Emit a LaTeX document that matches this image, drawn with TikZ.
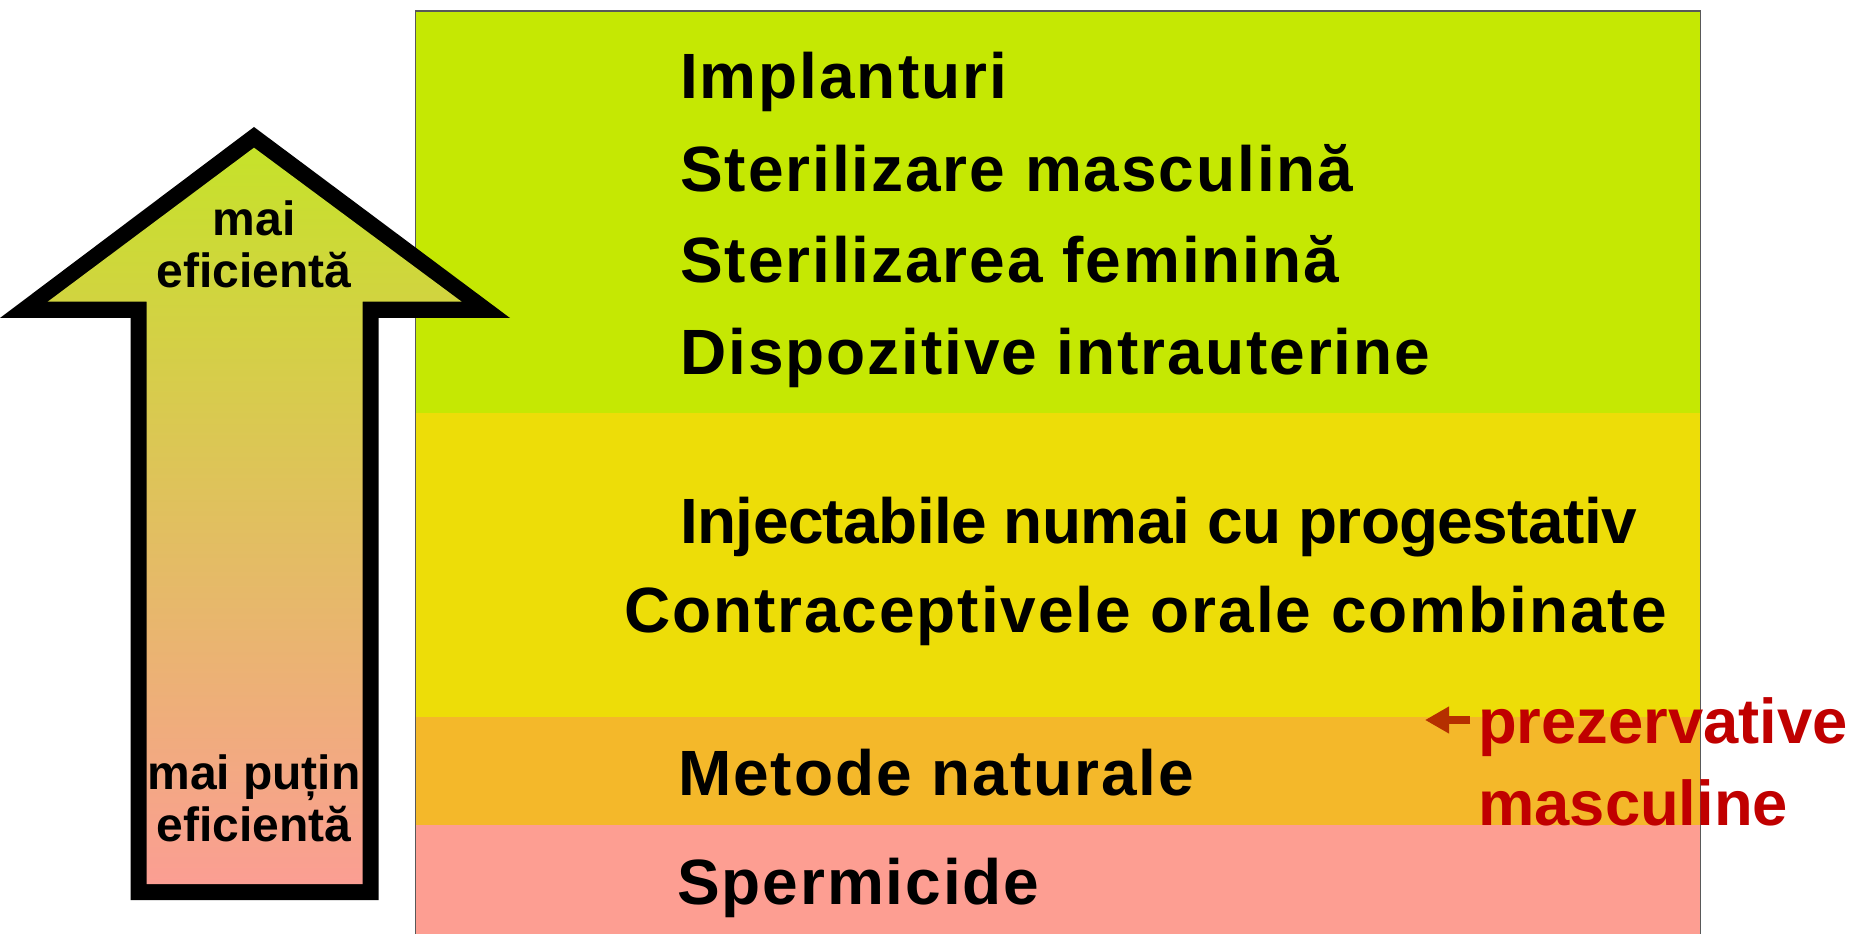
\documentclass[tikz,border=0pt]{standalone}
\usepackage{fontspec}
\setmainfont{Liberation Sans}
\usetikzlibrary{positioning, arrows.meta}

\definecolor{bandgreen}{HTML}{C5E803}
\definecolor{bandyellow}{HTML}{EDDD08}
\definecolor{bandorange}{HTML}{F4B82A}
\definecolor{bandpink}{HTML}{FD9E92}
\definecolor{hintred}{HTML}{C00000}
\definecolor{pointerred}{HTML}{B53000}

\begin{document}
\begin{tikzpicture}[
    x=0.75pt, y=-0.75pt,
    band/.style={draw=none},
    item/.style={anchor=base west, inner sep=0pt, font=\fontsize{48}{58}\selectfont\bfseries\addfontfeature{LetterSpace=3}},
    arrowtext/.style={align=center, inner sep=0pt, font=\fontsize{36}{39}\selectfont\bfseries},
    hint/.style={align=left, inner sep=0pt, text=hintred, font=\fontsize{47.5}{61.5}\selectfont\bfseries},
    pointer/.style={-{Triangle[length=18pt, width=19pt]}, line width=6pt, draw=pointerred}
]
    \useasboundingbox (0,0) rectangle (1857,934);

    % BANDS
    \fill[band, bandgreen] (415.5,11) rectangle (1700.5,413);
    \fill[band, bandyellow] (415.5,413) rectangle (1700.5,717);
    \fill[band, bandorange] (415.5,717) rectangle (1700.5,825);
    \fill[band, bandpink] (415.5,825) rectangle (1700.5,934);
    \draw[line width=1.2pt, black!65] (415.5,934) |- (1700.5,11) -- (1700.5,934);

    % BIG ARROW
    \fill[black] (254,127) -- (510,318) -- (378.7,318) -- (378.7,900) -- (130.7,900)
        -- (130.7,318) -- (0,318) -- cycle;
    \shade[top color={rgb,255:red,198;green,226;blue,42}, middle color={rgb,255:red,224;green,198;blue,98},
        bottom color={rgb,255:red,251;green,158;blue,147}]
        (254,147.7) -- (461.7,301.7) -- (362.7,301.7) -- (362.7,884) -- (146.7,884)
        -- (146.7,301.7) -- (47.7,301.7) -- cycle;
    \node[arrowtext, anchor=base] (more) at (254,288) {mai\\eficientă};
    \node[arrowtext, anchor=base] (less) at (254,841.7) {mai puțin\\eficientă};

    % METHODS
    \node[item] (implants) at (680,99) {Implanturi};
    \node[item] (vasectomy) at (680,192) {Sterilizare masculină};
    \node[item] (tubal) at (680,283) {Sterilizarea feminină};
    \node[item] (iud) at (680,374) {Dispozitive intrauterine};
    \node[item, font=\fontsize{48}{58}\selectfont\bfseries\addfontfeature{LetterSpace=-1}] (injectables) at (680,543) {Injectabile numai cu progestativ};
    \node[item] (pills) at (624,632) {Contraceptivele orale combinate};
    \node[item] (natural) at (678,795) {Metode naturale};
    \node[item] (spermicides) at (677,904) {Spermicide};

    % CONDOMS
    \node[hint, anchor=base west] (condoms) at (1478,825) {prezervative\\masculine};
    \coordinate (condomtip) at (1425,720);
    \draw[pointer, shorten <=6pt] (condomtip -| condoms.west) -- (condomtip);

\end{tikzpicture}
\end{document}
